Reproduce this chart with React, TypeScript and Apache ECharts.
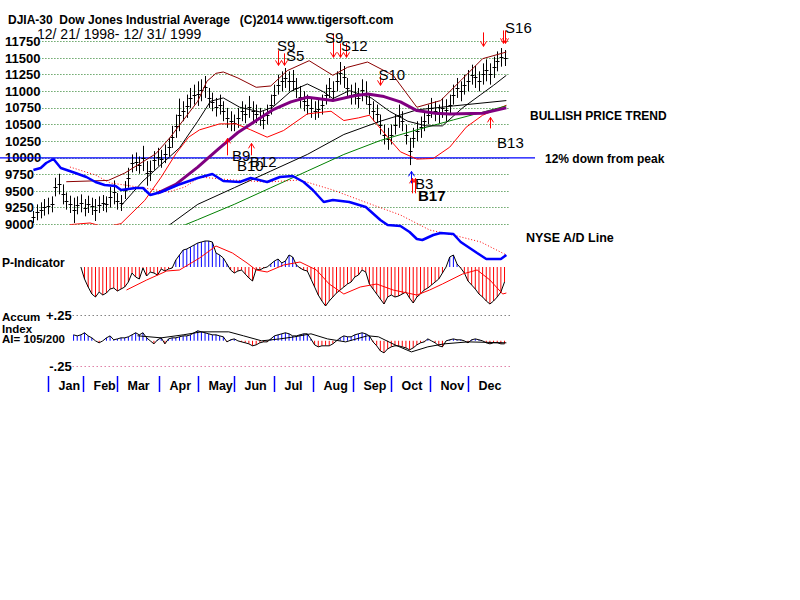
import { useEffect, useRef } from "react";
import * as echarts from "echarts";

const FONT = "'Liberation Sans', Arial, sans-serif";
const RED = "#ff0000";
const BLUE = "#0000ff";

// Trading-day index: 0 = 1998-12-21 ... 259 = 1999-12-31. Bars every 2nd day.
const barStep = 2;
const barLow = [
  9020, 9060, 9090, 9130, 9150, 9180, 9420, 9450, 9300, 9220,
  9170, 9020, 9150, 9180, 9120, 9170, 9140, 9050, 9170, 9200,
  9180, 9250, 9300, 9220, 9200, 9380, 9550, 9780, 9800, 9760,
  9800, 9580, 9650, 9820, 9880, 9850, 9920, 10020, 10150, 10300,
  10400, 10550, 10600, 10750, 10800, 10780, 10850, 10900, 10750, 10700,
  10620, 10650, 10550, 10450, 10400, 10400, 10450, 10550, 10520, 10600,
  10550, 10520, 10480, 10430, 10500, 10650, 10800, 10950, 11000, 11050,
  11000, 11000, 10900, 10750, 10700, 10650, 10600, 10570, 10600, 10650,
  10800, 10900, 10850, 11000, 11100, 11050, 10900, 10800, 10800, 10750,
  10850, 10800, 10650, 10550, 10520, 10350, 10200, 10120, 10200, 10350,
  10450, 10400, 10200, 9890, 10150, 10250, 10300, 10400, 10500, 10600,
  10550, 10520, 10600, 10550, 10650, 10800, 10900, 10850, 10950, 11000,
  11100, 11050, 11000, 11100, 11150, 11100, 11200, 11300, 11370, 11380,
];
const barHigh = [
  9200, 9300, 9330, 9380, 9400, 9420, 9700, 9760, 9600, 9480,
  9430, 9400, 9420, 9450, 9380, 9430, 9400, 9380, 9420, 9440,
  9420, 9560, 9660, 9470, 9440, 9650, 9850, 10050, 10080, 10020,
  10180, 9950, 9960, 10100, 10150, 10120, 10200, 10300, 10480, 10650,
  10890, 10850, 10950, 11050, 11100, 11150, 11180, 11230, 11050, 10980,
  10900, 10950, 10850, 10750, 10700, 10650, 10750, 10850, 10800, 10930,
  10850, 10800, 10750, 10700, 10800, 10950, 11100, 11250, 11300, 11350,
  11300, 11320, 11200, 11080, 11000, 10950, 10900, 10850, 10880, 10950,
  11100, 11200, 11150, 11300, 11440, 11380, 11200, 11100, 11130, 11050,
  11180, 11150, 10970, 10850, 10800, 10650, 10500, 10450, 10500, 10650,
  10800, 10700, 10500, 10300, 10450, 10550, 10620, 10700, 10800, 10900,
  10850, 10800, 10900, 10880, 10950, 11100, 11200, 11150, 11250, 11320,
  11400, 11380, 11300, 11420, 11480, 11420, 11520, 11600, 11650, 11620,
];

const upperIdx = [18, 41, 50, 67, 75, 90, 95, 100, 104, 112, 122, 130, 139, 151, 164, 172, 183, 197, 210, 223, 234, 246, 259];
const upperVal = [9640, 9660, 9770, 10060, 10310, 10850, 11150, 11270, 11290, 11200, 11060, 11080, 11310, 11460, 11240, 11360, 11440, 11240, 10760, 10860, 11160, 11490, 11590];

const lowerIdx = [20, 31, 39, 48, 61, 70, 78, 85, 91, 102, 111, 119, 128, 137, 150, 163, 170, 178, 184, 194, 201, 210, 219, 228, 237, 246, 259];
const lowerVal = [8995, 9020, 8960, 9010, 9360, 9710, 10060, 10310, 10420, 10510, 10510, 10420, 10310, 10410, 10660, 10700, 10560, 10600, 10640, 10310, 10090, 9980, 9990, 10160, 10460, 10640, 10790];

const ma21Idx = [48, 60, 70, 80, 90, 97, 104, 113, 124, 131, 141, 150, 159, 164, 173, 185, 195, 205, 215, 224, 235, 245, 252, 259];
const ma21Val = [9280, 9650, 9900, 10150, 10550, 10850, 10900, 10760, 10690, 10760, 11000, 11110, 10990, 10890, 11010, 10900, 10700, 10550, 10480, 10480, 10750, 10950, 11090, 11240];

const ma50Idx = [68, 78, 90, 102, 112, 122, 131, 141, 150, 164, 175, 183, 192, 201, 210, 220, 228, 246, 259];
const ma50Val = [9470, 9600, 9860, 10150, 10380, 10560, 10720, 10840, 10910, 10860, 10930, 10960, 10920, 10840, 10710, 10670, 10660, 10670, 10750];

const maLongIdx = [72, 90, 110, 130, 150, 170, 190, 210, 230, 259];
const maLongVal = [8940, 9300, 9550, 9800, 10050, 10350, 10550, 10720, 10780, 10860];

const maGreenIdx = [73, 90, 110, 130, 150, 170, 190, 210, 230, 259];
const maGreenVal = [8880, 9070, 9300, 9550, 9800, 10050, 10260, 10420, 10570, 10780];

// NYSE A/D line (relative units)
const adIdx = [0, 4, 7, 11, 15, 23, 29, 34, 39, 45, 48, 56, 60, 64, 70, 79, 90, 98, 104, 113, 119, 128, 135, 142, 148, 153, 159, 164, 173, 182, 190, 194, 201, 206, 210, 213, 219, 223, 230, 234, 243, 248, 256, 259];
const adVal = [95, 97, 102, 106, 97, 92, 88, 83, 80, 79, 75, 77, 77, 70, 73, 80, 87, 91, 84, 83, 87, 83, 88, 89, 83, 75, 63, 65, 63, 58, 45, 40, 39, 33, 26, 25, 30, 32, 31, 23, 12, 6, 6, 10];
const adMaIdx = [20, 34, 42, 50, 57, 64, 74, 83, 91, 109, 128, 146, 164, 183, 201, 217, 232, 245, 259];
const adMaVal = [98, 90, 82, 80, 78, 76, 73, 78, 88, 85, 83, 85, 75, 62, 50, 35, 29, 23, 10];

// P-Indicator, every 2nd day from day 26
const pStart = 26;
const pValues = [
  0, -12, -20, -27, -30, -25, -28, -26, -22, -21,
  -24, -22, -20, -15, -6, -10, -12, -1, -9, -5,
  -6, -8, -2, -4, -2, -1, 7, 12, 17, 18,
  20, 22, 24, 25, 26, 26, 25, 14, 12, 9,
  3, -3, -6, -4, -3, -7, -11, -14, -2, -3,
  -1, 0, 3, 6, 8, 4, 6, 12, 10, 2,
  -1, -3, -4, -12, -20, -28, -34, -39, -34, -30,
  -26, -23, -20, -17, -15, -10, -8, -3, -5, -17,
  -22, -27, -32, -37, -30, -28, -30, -29, -27, -25,
  -31, -36, -30, -27, -23, -21, -18, -15, -12, -6,
  0, 10, 12, 3, -1, -6, -14, -18, -22, -27,
  -30, -34, -37, -34, -30, -25, -15,
];
const pMaIdx = [51, 62, 73, 80, 91, 100, 109, 117, 122, 128, 137, 146, 155, 162, 170, 179, 188, 197, 210, 217, 224, 235, 243, 250, 257, 259];
const pMaVal = [-23, -13, -4, -3, 9, 21, 14, 4, -3, -5, 2, 5, -3, -17, -27, -20, -17, -23, -28, -23, -17, -7, -3, -13, -27, -26];

// Accumulation Index, every 2nd day from day 22
const aiStart = 22;
const aiValues = [
  0.058, 0.048, 0.058, 0.078, 0.048, 0.029, 0, -0.019, 0, 0.029,
  0.048, 0.010, 0.019, 0.029, 0.029, 0.039, 0.058, 0.078, 0.058, 0.078,
  0.029, 0, -0.029, 0.010, 0.029, -0.029, 0.019, 0.029, 0.029, 0.039,
  0.048, 0.048, 0.058, 0.078, 0.097, 0.087, 0.078, 0.068, 0.058, 0.058,
  0.048, 0.039, -0.010, 0.010, 0.019, 0, -0.010, -0.019, -0.029, -0.048,
  -0.039, -0.019, -0.010, -0.010, 0.019, 0.048, 0.058, 0.068, 0.078, 0.068,
  0.048, 0.048, 0.058, 0.068, 0.068, 0.019, -0.039, -0.058, -0.048, -0.048,
  -0.048, -0.029, 0, 0.029, 0.048, 0.039, 0.039, 0.058, 0.068, 0.078,
  0.068, 0.048, -0.010, -0.048, -0.097, -0.116, -0.078, -0.058, -0.048, -0.048,
  -0.058, -0.068, -0.087, -0.068, -0.039, -0.019, -0.010, 0.019, 0, -0.019,
  -0.048, -0.058, 0, 0.010, 0.019, 0.010, 0.010, 0, -0.019, 0.010,
  0.019, 0.010, 0, -0.019, -0.029, -0.019, -0.019, -0.029, -0.029,
];
const aiMaIdx = [57, 70, 82, 92, 107, 115, 125, 135, 143, 152, 161, 171, 183, 189, 198, 207, 216, 225, 238, 259];
const aiMaVal = [0.049, 0.029, 0.058, 0.087, 0.087, 0.049, 0, 0.019, 0.039, 0.068, 0.019, -0.010, 0.049, 0.039, -0.039, -0.107, -0.058, -0.029, -0.010, -0.019];

// Signals: [day, tip price, tail price]
const arrowIdx = [134, 137, 164, 168, 171, 190, 246, 257, 258.5, 106, 119, 207, 207.5, 208.8, 250];
const arrowTip = [11389, 11389, 11510, 11510, 11510, 11089, 11675, 11720, 11720, 10292, 10217, 9796, 9691, 9691, 10608];
const arrowTail = [11615, 11570, 11870, 11720, 11720, 11239, 11885, 11915, 11915, 10037, 10037, 9616, 9466, 9466, 10442];
const arrowColor = [RED, RED, RED, RED, RED, RED, RED, RED, RED, RED, RED, BLUE, RED, RED, RED];

const sigText = ["S9", "S5", "S9", "S12", "S10", "S16", "B9", "B10", "B12", "B3", "B17", "B13"];
const sigIdx = [133.4, 138.3, 159.7, 168.4, 189, 258.3, 108.8, 111.5, 118.5, 209, 210.6, 253.9];
const sigPrice = [11694, 11544, 11814, 11694, 11254, 11953, 10030, 9885, 9950, 9610, 9440, 10232];
const sigBold = [false, false, false, false, false, false, false, false, false, false, true, false];

const monthNames = ["Jan", "Feb", "Mar", "Apr", "May", "Jun", "Jul", "Aug", "Sep", "Oct", "Nov", "Dec"];
const monthStart = [8, 27, 46, 69, 90, 110, 132, 153, 175, 196, 217, 238];

const XMAX = 261;
const L = 33.4;
const W = 476.6;

function pairs(idx: number[], val: number[]) {
  return idx.map((x, i) => [x, val[i]]);
}

function lineSeries(ai: number, data: number[][], color: string, width: number, extra: any = {}) {
  return {
    type: "line",
    xAxisIndex: ai,
    yAxisIndex: ai,
    data,
    showSymbol: false,
    symbol: "none",
    silent: true,
    lineStyle: { color, width, ...(extra.lineStyle || {}) },
    z: extra.z ?? 3,
  };
}

function buildOption(): any {
  const hx = (gi: number) => ({ type: "value", gridIndex: gi, min: 0, max: XMAX, show: false });
  return {
    animation: false,
    backgroundColor: "#fff",
    textStyle: { fontFamily: FONT },
    grid: [
      { left: L, width: W, top: 41.4, height: 182.9 },
      { left: L, width: W, top: 41, height: 224 },
      { left: 0, width: 535, top: 41.4, height: 182.9 },
      { left: L, width: W, top: 227, height: 80 },
      { left: L, width: W, top: 315, height: 51.7 },
      { left: L, width: W, top: 376, height: 16 },
    ],
    xAxis: [hx(0), hx(1), { type: "value", gridIndex: 2, min: 0, max: 1, show: false }, hx(3), hx(4), hx(5)],
    yAxis: [
      {
        type: "value", gridIndex: 0, min: 9000, max: 11750, interval: 250,
        axisLine: { show: false }, axisTick: { show: false },
        axisLabel: {
          align: "left", margin: 28.4, fontFamily: FONT, fontWeight: "bold", fontSize: 13, color: "#000",
          backgroundColor: "#fff", formatter: (v: number) => String(v),
        },
        splitLine: { show: true, lineStyle: { color: "#1f7a1f", type: [1, 2], width: 1 } },
      },
      { type: "value", gridIndex: 1, min: 0, max: 224, show: false },
      { type: "value", gridIndex: 2, min: 9000, max: 11750, show: false },
      { type: "value", gridIndex: 3, min: -40, max: 40, show: false },
      { type: "value", gridIndex: 4, min: -0.25, max: 0.25, show: false },
      { type: "value", gridIndex: 5, min: 0, max: 1, show: false },
    ],
    graphic: [
      { type: "text", left: 8, top: 14, style: { text: "DJIA-30  Dow Jones Industrial Average   (C)2014 www.tigersoft.com", font: `bold 12px ${FONT}`, fill: "#000" } },
      { type: "text", left: 37, top: 27, style: { text: "12/ 21/ 1998- 12/ 31/ 1999", font: `14px ${FONT}`, fill: "#000" } },
      { type: "text", left: 530, top: 110, style: { text: "BULLISH PRICE TREND", font: `bold 12px ${FONT}`, fill: "#000" } },
      { type: "text", left: 545, top: 153, style: { text: "12% down from peak", font: `bold 12px ${FONT}`, fill: "#000" } },
      { type: "text", left: 526, top: 231, style: { text: "NYSE A/D Line", font: `bold 12.5px ${FONT}`, fill: "#000" } },
      { type: "text", left: 2, top: 257, style: { text: "P-Indicator", font: `bold 12px ${FONT}`, fill: "#000" } },
      { type: "text", left: 2, top: 311, style: { text: "Accum", font: `bold 11.5px ${FONT}`, fill: "#000" } },
      { type: "text", left: 2, top: 322.5, style: { text: "Index", font: `bold 11.5px ${FONT}`, fill: "#000" } },
      { type: "text", left: 2, top: 333, style: { text: "AI= 105/200", font: `bold 11.5px ${FONT}`, fill: "#000" } },
    ],
    series: [
      // 12% down line
      { ...lineSeries(2, [[0, 10000], [1, 10000]], BLUE, 1.2), z: 2 },
      lineSeries(0, pairs(upperIdx, upperVal), "#8b0000", 1),
      lineSeries(0, pairs(lowerIdx, lowerVal), RED, 1),
      lineSeries(0, pairs(maGreenIdx, maGreenVal), "#008000", 1),
      lineSeries(0, pairs(maLongIdx, maLongVal), "#000", 1),
      {
        type: "custom", xAxisIndex: 0, yAxisIndex: 0, clip: false, silent: true, z: 3,
        data: barLow.map((lo, i) => [i * barStep, lo, barHigh[i]]),
        renderItem: (_p: any, api: any) => {
          const x = api.value(0);
          const lo = api.coord([x, api.value(1)]);
          const hi = api.coord([x, api.value(2)]);
          const px = Math.round(lo[0]) + 0.5;
          const my = Math.round((lo[1] + hi[1]) / 2) + 0.5;
          return {
            type: "group",
            children: [
              { type: "line", shape: { x1: px, y1: lo[1], x2: px, y2: hi[1] }, style: { stroke: "#000", lineWidth: 1 } },
              { type: "line", shape: { x1: px - 2, y1: my, x2: px + 2, y2: my }, style: { stroke: "#000", lineWidth: 1 } },
            ],
          };
        },
      },
      lineSeries(0, pairs(ma21Idx, ma21Val), "#000", 1, { z: 4 }),
      lineSeries(0, pairs(ma50Idx, ma50Val), "#800080", 3, { z: 4 }),
      lineSeries(1, pairs(adMaIdx, adMaVal), RED, 1, { lineStyle: { type: [1, 2] }, z: 5 }),
      lineSeries(1, pairs(adIdx, adVal), BLUE, 2.5, { z: 5 }),
      {
        type: "custom", xAxisIndex: 0, yAxisIndex: 0, clip: false, silent: true, z: 6,
        data: arrowIdx.map((x, i) => [x, arrowTip[i], arrowTail[i]]),
        renderItem: (p: any, api: any) => {
          const x = api.value(0);
          const tip = api.coord([x, api.value(1)]);
          const tail = api.coord([x, api.value(2)]);
          const px = Math.round(tip[0]) + 0.5;
          const d = tail[1] < tip[1] ? 1 : -1;
          const c = arrowColor[p.dataIndex];
          return {
            type: "group",
            children: [
              { type: "line", shape: { x1: px, y1: tail[1], x2: px, y2: tip[1] }, style: { stroke: c, lineWidth: 1 } },
              { type: "polyline", shape: { points: [[px - 3, tip[1] - 5 * d], [px, tip[1]], [px + 3, tip[1] - 5 * d]] }, style: { stroke: c, lineWidth: 1, fill: "none" } },
            ],
          };
        },
      },
      {
        type: "custom", xAxisIndex: 0, yAxisIndex: 0, clip: false, silent: true, z: 7,
        data: sigIdx.map((x, i) => [x, sigPrice[i]]),
        renderItem: (p: any, api: any) => {
          const pt = api.coord([api.value(0), api.value(1)]);
          return {
            type: "text", x: pt[0], y: pt[1],
            style: {
              text: sigText[p.dataIndex], fill: "#000",
              font: `${sigBold[p.dataIndex] ? "bold " : ""}15px ${FONT}`,
              align: "left", verticalAlign: "middle",
            },
          };
        },
      },
      // P-Indicator
      {
        type: "bar", xAxisIndex: 3, yAxisIndex: 3, barWidth: 1, silent: true,
        data: pValues.map((v, i) => [pStart + 2 * i, v]),
        itemStyle: { color: (q: any) => (q.value[1] >= 0 ? BLUE : RED) },
      },
      lineSeries(3, pValues.map((v, i) => [pStart + 2 * i, v]), "#000", 1),
      lineSeries(3, pairs(pMaIdx, pMaVal), RED, 1, { z: 4 }),
      // Accumulation Index
      {
        type: "bar", xAxisIndex: 4, yAxisIndex: 4, barWidth: 1, silent: true,
        data: aiValues.map((v, i) => [aiStart + 2 * i, v]),
        itemStyle: { color: (q: any) => (q.value[1] >= 0 ? BLUE : RED) },
        markLine: {
          silent: true, symbol: ["none", "none"],
          label: { show: true, position: "start", distance: 1, fontFamily: FONT, fontWeight: "bold", fontSize: 13, color: "#000" },
          data: [
            [{ coord: [21.5, 0.25], lineStyle: { color: "#444", type: [1, 3], width: 1 }, label: { formatter: "+.25" } }, { coord: [XMAX, 0.25] }],
            [{ coord: [21.5, -0.25], lineStyle: { color: "#d0407a", type: [1, 3], width: 1 }, label: { formatter: "-.25" } }, { coord: [XMAX, -0.25] }],
          ],
        },
      },
      lineSeries(4, aiValues.map((v, i) => [aiStart + 2 * i, v]), "#000", 1),
      lineSeries(4, pairs(aiMaIdx, aiMaVal), "#000", 1, { z: 4 }),
      // month axis
      {
        type: "custom", xAxisIndex: 5, yAxisIndex: 5, clip: false, silent: true,
        data: monthStart.map((m) => [m, 0]),
        renderItem: (p: any, api: any) => {
          const top = api.coord([api.value(0), 1]);
          const bot = api.coord([api.value(0), 0]);
          const px = Math.round(top[0]) + 0.5;
          return {
            type: "group",
            children: [
              { type: "line", shape: { x1: px, y1: top[1], x2: px, y2: bot[1] }, style: { stroke: BLUE, lineWidth: 1.5 } },
              {
                type: "text", x: px + 10, y: (top[1] + bot[1]) / 2 + 2,
                style: { text: monthNames[p.dataIndex], fill: "#000", font: `bold 12.5px ${FONT}`, align: "left", verticalAlign: "middle" },
              },
            ],
          };
        },
      },
    ],
  };
}

export default function App() {
  const ref = useRef<HTMLDivElement>(null);
  useEffect(() => {
    const chart = echarts.init(ref.current!, null, { renderer: "svg" });
    chart.setOption(buildOption());
    return () => chart.dispose();
  }, []);
  return (
    <div
      ref={ref}
      style={{ position: "fixed", left: 0, top: 0, width: 800, height: 600, background: "#fff" }}
    />
  );
}
